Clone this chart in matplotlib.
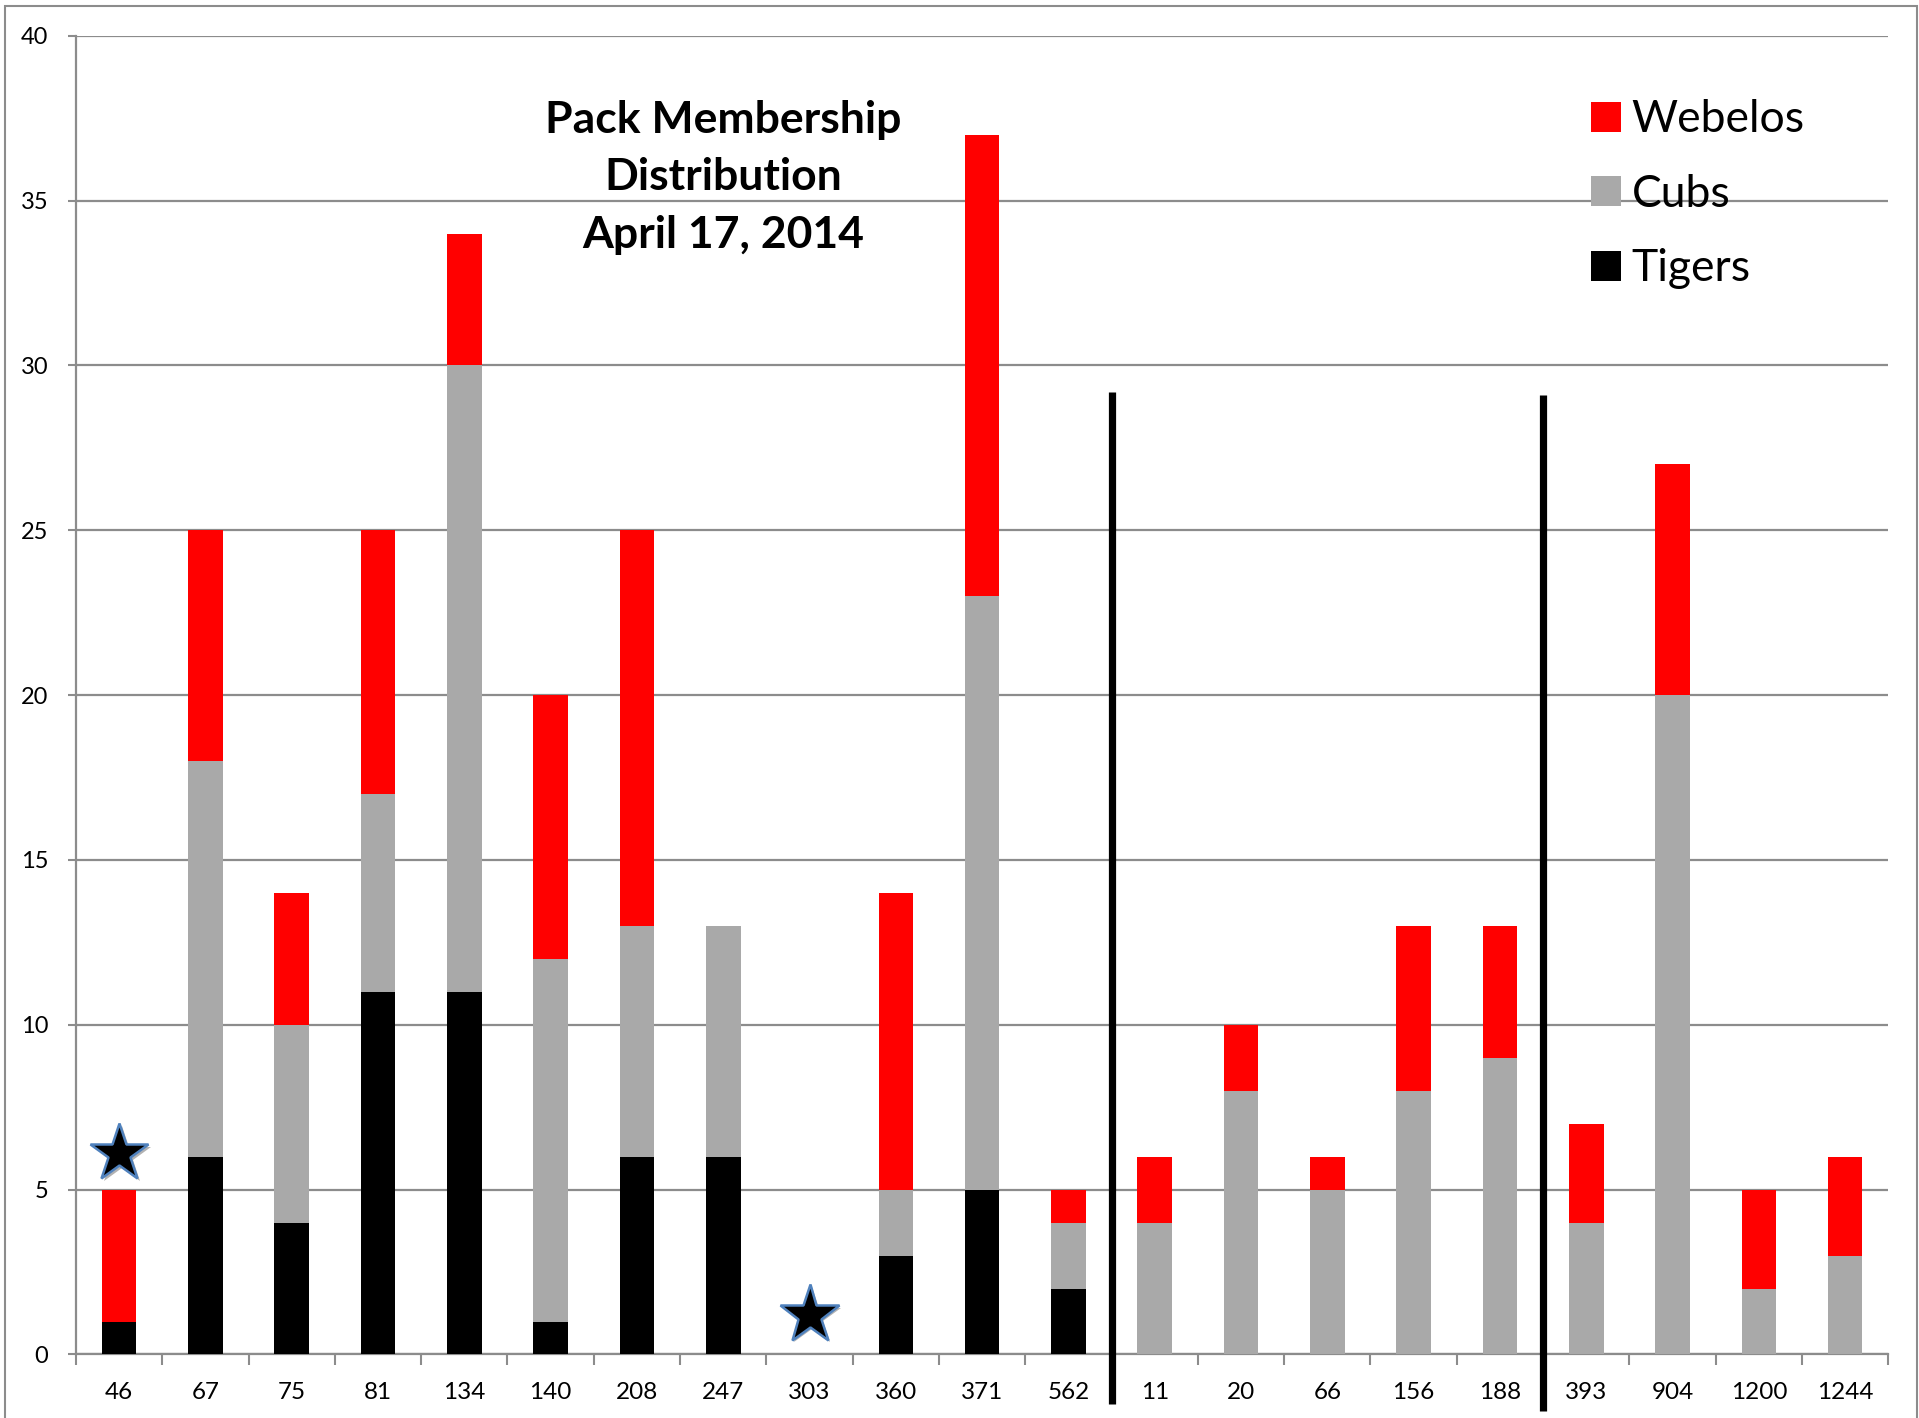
import numpy as np
import matplotlib.pyplot as plt
from matplotlib.patches import Rectangle
import matplotlib.patheffects as pe

packs = ["46", "67", "75", "81", "134", "140", "208", "247", "303", "360", "371", "562",
         "11", "20", "66", "156", "188", "393", "904", "1200", "1244"]
tigers = [1, 6, 4, 11, 11, 1, 6, 6, 0, 3, 5, 2, 0, 0, 0, 0, 0, 0, 0, 0, 0]
cubs = [0, 12, 6, 6, 19, 11, 7, 7, 0, 2, 18, 2, 4, 8, 5, 8, 9, 4, 20, 2, 3]
webelos = [4, 7, 4, 8, 4, 8, 12, 0, 0, 9, 14, 1, 2, 2, 1, 5, 4, 3, 7, 3, 3]

# divider lines (x position, bottom, top) and star markers (x, y)
dividers = [(11.5, -1.5, 29.2), (16.5, -1.7, 29.1)]
stars = [(0, 6.1), (8, 1.2)]

plt.rcParams['font.family'] = ['Lato', 'DejaVu Sans']

fig = plt.figure(figsize=(19.19, 14.18), dpi=100)
ax = fig.add_axes([0.0396, 0.0448, 0.9444, 0.930])

x = np.arange(len(packs))
t = np.array(tigers)
c = np.array(cubs)
w = np.array(webelos)
bw = 0.4
b1 = ax.bar(x, t, bw, color="black", zorder=3, label="Tigers")
b2 = ax.bar(x, c, bw, bottom=t, color="#a9a9a9", zorder=3, label="Cubs")
b3 = ax.bar(x, w, bw, bottom=t + c, color="#ff0000", zorder=3, label="Webelos")

ax.set_xlim(-0.5, len(packs) - 0.5)
ax.set_ylim(0, 40)
ax.set_yticks(range(0, 41, 5))
ax.yaxis.grid(True, color="#8c8c8c", linewidth=1.6, zorder=0)
ax.set_axisbelow(True)

ax.set_xticks(x)
ax.set_xticklabels(packs, fontsize=17.5)
ax.set_xticks(np.arange(-0.5, len(packs), 1), minor=True)
ax.tick_params(axis="x", which="major", length=0, pad=20)
ax.tick_params(axis="x", which="minor", length=8, width=1.5, color="#8c8c8c")
ax.tick_params(axis="y", length=6, width=1.5, color="#8c8c8c", labelsize=17, pad=14)

for s in ["top", "right"]:
    ax.spines[s].set_visible(False)
for s in ["left", "bottom"]:
    ax.spines[s].set_color("#8c8c8c")
    ax.spines[s].set_linewidth(1.6)

for xd, y0, y1 in dividers:
    ax.plot([xd, xd], [y0, y1], color="black", linewidth=5.2, clip_on=False, zorder=5,
            solid_capstyle="butt")

for xs, ys in stars:
    ax.plot(xs, ys, marker="*", markersize=44, color="black", markeredgecolor="#4f81bd",
            markeredgewidth=1.8, clip_on=False, zorder=6,
            path_effects=[pe.SimplePatchShadow(offset=(2, -2), alpha=0.3), pe.Normal()])

ax.text(7.0, 35.7, "Pack Membership\nDistribution\nApril 17, 2014", ha="center", va="center",
        fontsize=32, fontweight="bold", linespacing=1.52)

ax.legend(handles=[b3, b2, b1], loc="upper left", bbox_to_anchor=(0.814, 0.982),
          frameon=False, fontsize=32, handlelength=0.66, handleheight=0.66,
          handletextpad=0.25, labelspacing=0.75)

fig.patches.append(Rectangle((5 / 1919, -0.01), 1912 / 1919, 1.01 - 6 / 1418,
                             transform=fig.transFigure, fill=False,
                             edgecolor="#8c8c8c", linewidth=1.5))

fig.savefig("out.png", dpi=100)
